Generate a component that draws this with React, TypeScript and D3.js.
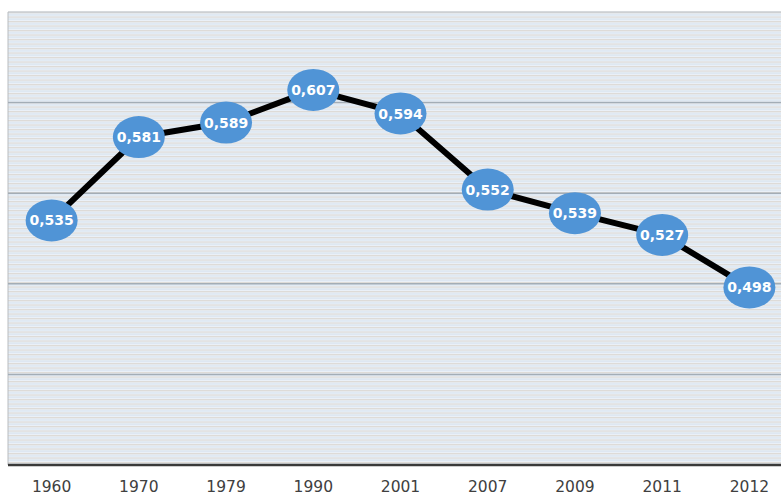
import React from "react";
import * as d3 from "d3";

const categories = ["1960", "1970", "1979", "1990", "2001", "2007", "2009", "2011", "2012"];
const values = [0.535, 0.581, 0.589, 0.607, 0.594, 0.552, 0.539, 0.527, 0.498];
const yTicks = [0.4, 0.45, 0.5, 0.55, 0.6, 0.65];

export default function App() {
  const W = 781, H = 495;
  const left = 8, right = 793, top = 12, bottom = 465;
  const x = d3.scaleBand<string>().domain(categories).range([left, right]).padding(0);
  const y = d3.scaleLinear().domain([0.4, 0.65]).range([bottom, top]);
  const cx = (c: string) => (x(c) as number) + x.bandwidth() / 2;
  const line = d3.line<number>().x((_, i) => cx(categories[i])).y((d) => y(d));
  const fmt = (v: number) => d3.format(".3f")(v).replace(".", ",");

  return (
    <svg width={W} height={H} style={{ position: "absolute", left: 0, top: 0, background: "#fff" }}>
      <defs>
        <pattern id="stripes" x="0" y={top} width="10" height="4.5" patternUnits="userSpaceOnUse">
          <rect x="0" y="0" width="10" height="4.5" fill="#ebf1f7" />
          <rect x="0" y="0" width="10" height="1.2" fill="#dedad6" />
          <rect x="0" y="2.3" width="10" height="1" fill="#d6e3f0" />
        </pattern>
      </defs>
      <rect x={left} y={top} width={right - left} height={bottom - top} fill="url(#stripes)" />
      <line x1={left} x2={right} y1={top} y2={top} stroke="#c8ccd0" strokeWidth={1.5} />
      <line x1={left} x2={left} y1={top} y2={bottom} stroke="#b8bcc0" strokeWidth={1} />
      {yTicks.slice(1, -1).map((t) => (
        <line key={t} x1={left} x2={right} y1={y(t)} y2={y(t)} stroke="#a3adb6" strokeWidth={1.5} />
      ))}
      <line x1={left} x2={right} y1={bottom} y2={bottom} stroke="#3a3a3a" strokeWidth={2.5} />
      <path d={line(values) || ""} fill="none" stroke="#000" strokeWidth={6} strokeLinejoin="round" />
      {values.map((v, i) => (
        <g key={i}>
          <ellipse cx={cx(categories[i])} cy={y(v)} rx={26} ry={21} fill="#5094d6" />
          <text
            x={cx(categories[i])}
            y={y(v)}
            dy="0.36em"
            textAnchor="middle"
            fill="#fff"
            fontFamily="DejaVu Sans, Verdana, sans-serif"
            fontWeight="bold"
            fontSize={14}
          >
            {fmt(v)}
          </text>
        </g>
      ))}
      {categories.map((c) => (
        <text
          key={c}
          x={cx(c)}
          y={492}
          textAnchor="middle"
          fill="#404040"
          fontFamily="DejaVu Sans, Verdana, sans-serif"
          fontSize={15.5}
        >
          {c}
        </text>
      ))}
    </svg>
  );
}
